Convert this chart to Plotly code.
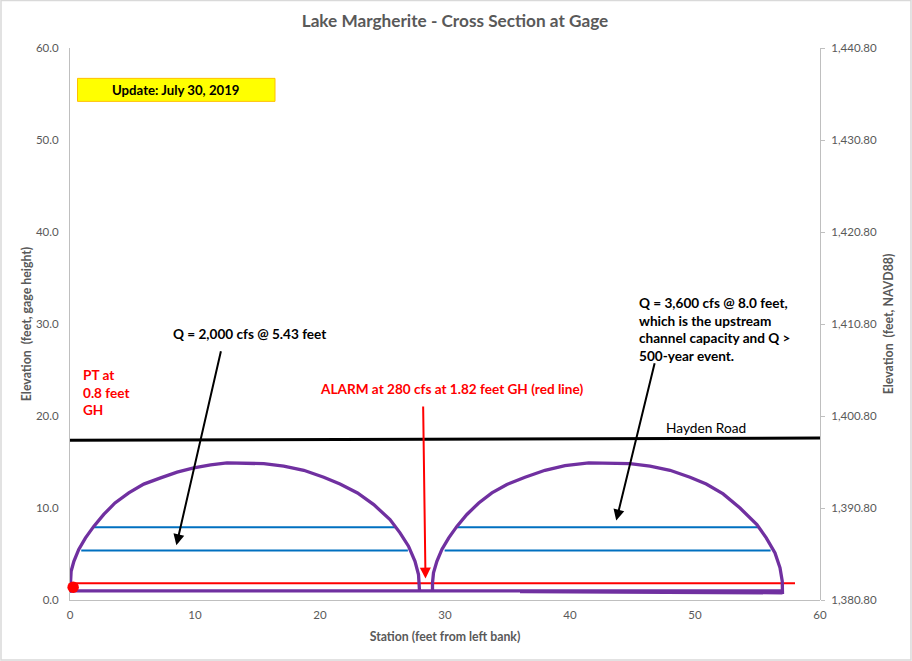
import plotly.graph_objects as go

TITLE = "Lake Margherite - Cross Section at Gage"

left_arch_station = [0, 0.01, 0.09, 0.31, 0.7, 1.24, 1.9, 2.7, 3.6, 4.7, 5.9, 7.25, 8.57, 9.9, 11.25, 12.56, 14.4, 15.5, 17.1, 18.7, 20.3, 21.6, 23, 24.3, 25.6, 26.4, 27.08, 27.6, 27.88, 27.96, 27.96]
left_arch_elev = [0.8, 1.3, 3.13, 4.2, 5.5, 6.75, 8, 9.3, 10.55, 11.64, 12.6, 13.27, 13.9, 14.35, 14.7, 14.9, 14.9, 14.82, 14.54, 14.1, 13.34, 12.6, 11.64, 10.37, 8.74, 7.3, 5.85, 4.2, 2.77, 1.3, 1.0]
right_arch_station = [29, 29, 29.08, 29.35, 29.75, 30.3, 30.95, 31.75, 32.7, 33.75, 34.95, 36.4, 38, 39.6, 41.5, 43.6, 44.8, 46.4, 48, 49.6, 50.9, 52.25, 53.6, 54.95, 55.7, 56.4, 56.8, 56.98, 57]
right_arch_elev = [1.0, 1.86, 2.95, 4.2, 5.5, 6.75, 8, 9.3, 10.55, 11.64, 12.55, 13.34, 14.1, 14.6, 14.9, 14.9, 14.82, 14.54, 14.1, 13.34, 12.6, 11.53, 10, 8.2, 6.75, 5.12, 3.5, 2.05, 0.65]
base_station = [0, 57]
base_elev = [1.0, 1.0]
base_lower_station = [36, 57]
base_lower_elev = [0.92, 0.78]
road_station = [0, 15, 30, 45, 60]
road_elev = [17.36, 17.42, 17.48, 17.54, 17.6]
blue_segments = [([1.9, 26.1], [7.92, 7.92]), ([0.9, 27.03], [5.38, 5.38]), ([30.95, 55.1], [7.92, 7.92]), ([29.97, 56.05], [5.38, 5.38])]
alarm_station = [0, 58]
alarm_elev = [1.83, 1.83]
pt_station = [0.25]
pt_elev = [1.39]
datum_station = [0, 60]
datum_elev = [1380.8, 1440.8]

PURPLE = "#7030a0"
BLUE = "#0070c0"
RED = "#ff0000"
FONT = "Lato"

fig = go.Figure()
for xs, ys in blue_segments:
    fig.add_trace(go.Scatter(x=xs, y=ys, mode="lines", line=dict(color=BLUE, width=2), showlegend=False, hoverinfo="skip"))
fig.add_trace(go.Scatter(x=alarm_station, y=alarm_elev, mode="lines", line=dict(color=RED, width=2), showlegend=False))
for xs, ys in [(left_arch_station, left_arch_elev), (right_arch_station, right_arch_elev), (base_station, base_elev), (base_lower_station, base_lower_elev)]:
    fig.add_trace(go.Scatter(x=xs, y=ys, mode="lines", line=dict(color=PURPLE, width=3.3), showlegend=False))
fig.add_trace(go.Scatter(x=road_station, y=road_elev, mode="lines", line=dict(color="#000000", width=3), showlegend=False, cliponaxis=False))
fig.add_trace(go.Scatter(x=pt_station, y=pt_elev, mode="markers", marker=dict(color=RED, size=11.5, symbol="circle"), showlegend=False, cliponaxis=False))
fig.add_trace(go.Scatter(x=datum_station, y=datum_elev, yaxis="y2", mode="lines", line=dict(width=0), opacity=0, showlegend=False, hoverinfo="skip"))

def note(text, x, y, color="#000000", xanchor="left", yanchor="middle", size=13.6, align="left"):
    fig.add_annotation(text=text, x=x, y=y, xref="x", yref="y", showarrow=False, xanchor=xanchor, yanchor=yanchor,
                       align=align, font=dict(family=FONT, size=size, color=color))

def arrow(x0, y0, x1, y1, color):
    fig.add_annotation(x=x1, y=y1, ax=x0, ay=y0, xref="x", yref="y", axref="x", ayref="y", text="", showarrow=True,
                       arrowhead=2, arrowsize=1.1, arrowwidth=2, arrowcolor=color)

arrow(12.1, 27.2, 8.51, 5.95, "#000000")
arrow(28.25, 21.2, 28.44, 2.33, RED)
arrow(46.8, 25.9, 43.7, 8.63, "#000000")

note("<b>PT at<br>0.8 feet<br>GH</b>", 0.88, 22.6, color=RED)
note("<b>Q = 2,000 cfs @ 5.43 feet</b>", 8.11, 28.87)
note("<b>ALARM at 280 cfs at 1.82 feet GH (red line)</b>", 19.8, 22.9, color=RED)
note("<b>Q = 3,600 cfs @ 8.0 feet,<br>which is the upstream<br>channel capacity and Q &gt;<br>500-year event.</b>", 45.34, 29.45)
note("Hayden Road", 47.54, 18.8, size=13.7)

fig.add_shape(type="rect", xref="x", yref="y", x0=0.6, x1=16.4, y0=54.2, y1=56.7, fillcolor="#ffff00", line=dict(color="#ffc000", width=1), layer="below")
note("<b>Update: July 30, 2019</b>", 8.4, 55.45, xanchor="center", size=13.2)
fig.add_shape(type="rect", xref="paper", yref="paper", x0=-0.092, x1=1.1213, y0=-0.1086, y1=1.086, line=dict(color="#d9d9d9", width=1.5), fillcolor="rgba(0,0,0,0)", layer="below")

tick_font = dict(family=FONT, size=11.5, color="#595959")
label_font = dict(family=FONT, size=12.3, color="#595959")
fig.update_layout(
    width=912, height=661, autosize=False, paper_bgcolor="white", plot_bgcolor="rgba(0,0,0,0)",
    margin=dict(l=69.5, r=92, t=48, b=60.5), showlegend=False,
    title=dict(text="<b>" + TITLE + "</b>", x=455 / 912, xanchor="center", y=1 - 21 / 661, yanchor="middle",
               font=dict(family=FONT, size=17.2, color="#595959")),
    xaxis=dict(range=[0, 60], tickvals=[0, 10, 20, 30, 40, 50, 60], showgrid=False, zeroline=False, showline=True, linecolor="#bfbfbf",
               layer="below traces", linewidth=1, ticks="", ticklabelstandoff=4, tickfont=tick_font, title=dict(text="<b>Station (feet from left bank)</b>", font=label_font, standoff=12)),
    yaxis=dict(range=[0, 60], tickvals=[0, 10, 20, 30, 40, 50, 60], tickformat=".1f", showgrid=False, zeroline=False, showline=True,
               layer="below traces", linecolor="#bfbfbf", linewidth=1, ticks="", ticklabelstandoff=8, tickfont=tick_font, title=dict(text="<b>Elevation  (feet, gage height)</b>", font=label_font, standoff=1)),
    yaxis2=dict(range=[1380.8, 1440.8], tickvals=[1380.8, 1390.8, 1400.8, 1410.8, 1420.8, 1430.8, 1440.8], tickformat=",.2f", side="right", anchor="x",
                showgrid=False, zeroline=False, showline=True, linecolor="#bfbfbf", linewidth=1, ticks="outside", ticklen=4, tickcolor="#bfbfbf",
                ticklabelstandoff=4, tickfont=tick_font, title=dict(text="<b>Elevation  (feet, NAVD88)</b>", font=label_font, standoff=8)),
)

fig.write_html("out.html", post_script="document.body.style.margin='0';", config={"displayModeBar": False})
